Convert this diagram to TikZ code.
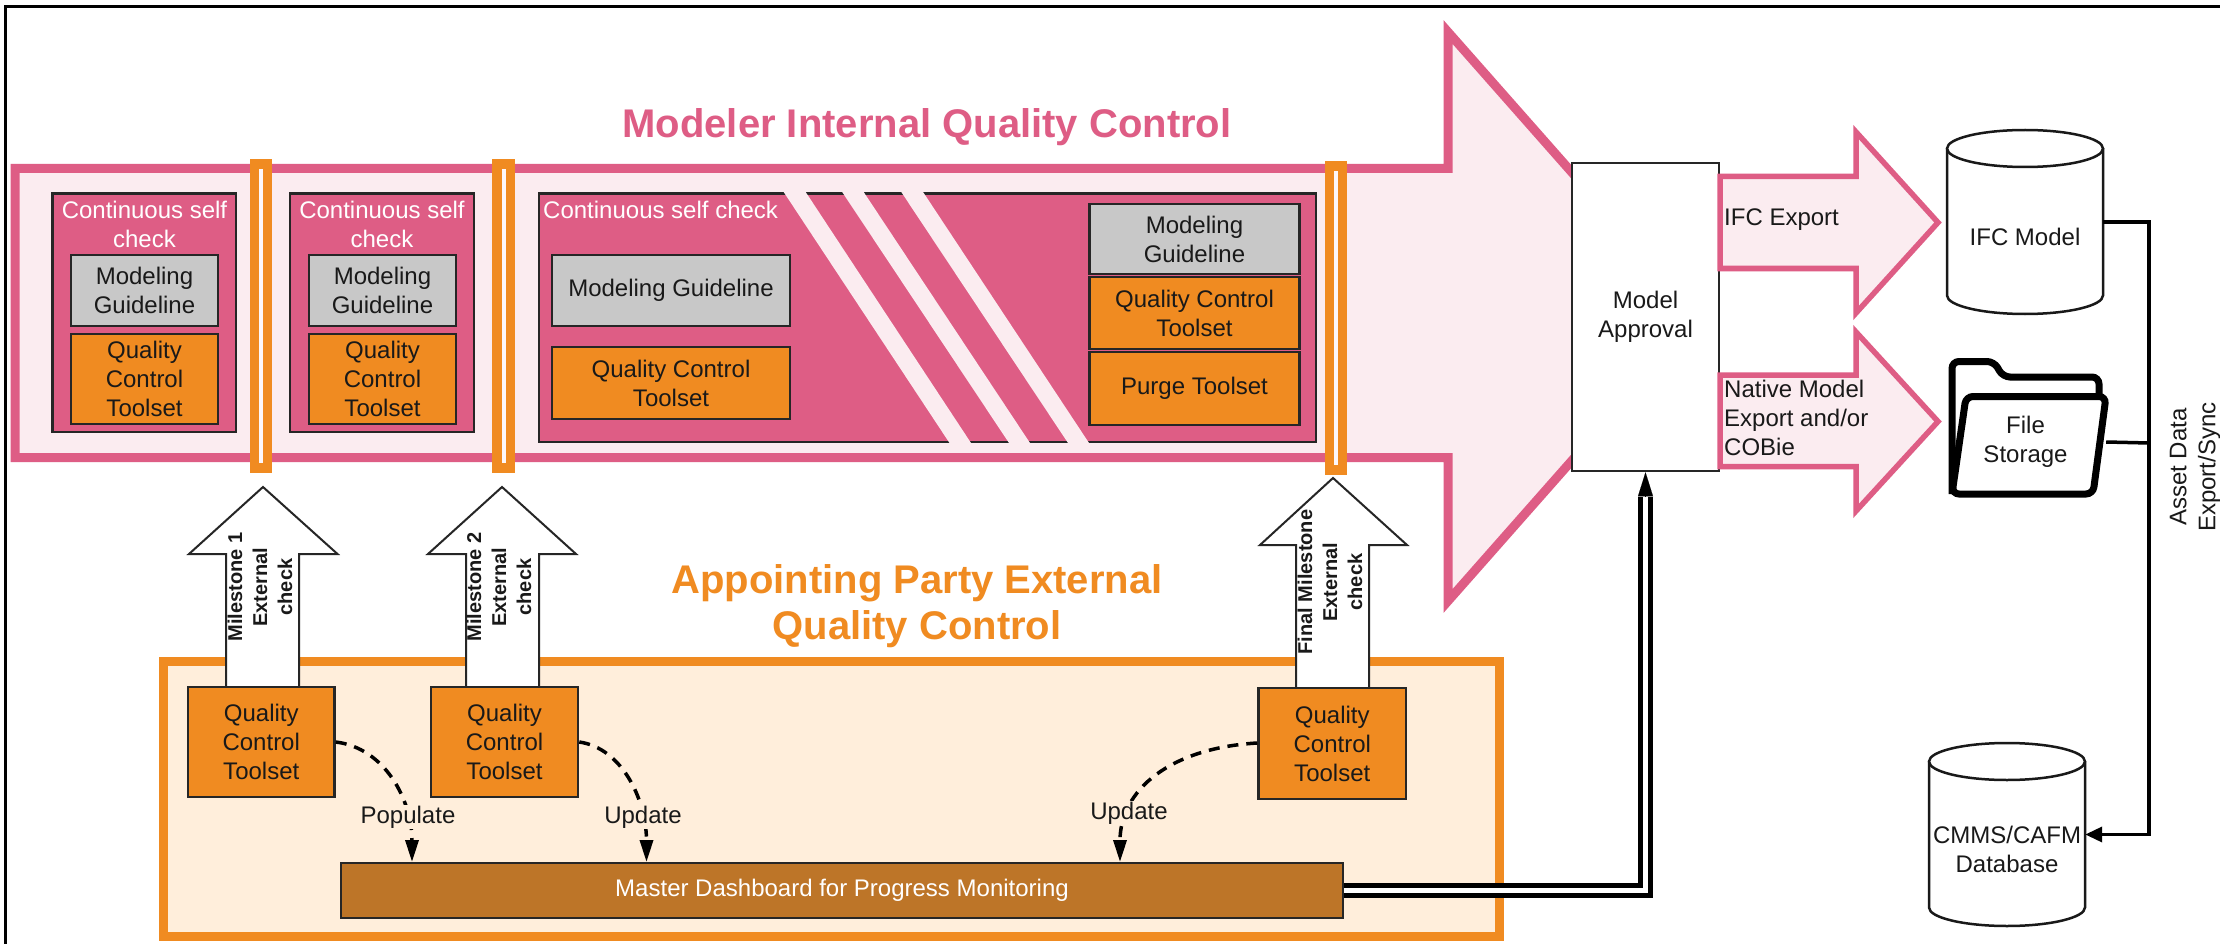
\documentclass[tikz,border=0pt]{standalone}
\usepackage{fontspec}
\setmainfont{Liberation Sans}
\usetikzlibrary{arrows.meta}
\definecolor{pinkc}{HTML}{DE5D85}
\definecolor{pinkl}{HTML}{FBECF0}
\definecolor{orangec}{HTML}{F08B21}
\definecolor{orangel}{HTML}{FFEEDB}
\definecolor{greyc}{HTML}{C8C8C8}
\definecolor{brownc}{HTML}{BD7528}
\newcommand{\tfont}{\fontsize{24}{29}\selectfont}
\newcommand{\ttfont}{\fontsize{40}{46}\selectfont\bfseries}
\newcommand{\mfont}{\fontsize{20}{25}\selectfont\bfseries}
\newcommand{\mybx}[7]{\node[#6,minimum width={(#4-#2)*1pt},minimum height={(#5-#3)*1pt}] (#1) at ({(#2+#4)/2},{(#3+#5)/2}) {#7};}
\tikzset{
  basebox/.style={rectangle,draw=black!85,line width=2.5pt,inner sep=0pt,font=\tfont,align=center,text=black!90},
  pinkbox/.style={basebox,fill=pinkc,text=white},
  greybox/.style={basebox,fill=greyc},
  orbox/.style={basebox,fill=orangec},
  brownbox/.style={basebox,fill=brownc,text=white},
  apprbox/.style={basebox,fill=white},
  ghost/.style={rectangle,inner sep=0pt,font=\tfont,align=center,text=black!90},
  plain/.style={inner sep=0pt,font=\tfont,align=left,text=black!90},
  wtext/.style={inner sep=0pt,font=\tfont,align=center,text=white},
  barout/.style={rectangle,inner sep=0pt,fill=orangec},
  barin/.style={rectangle,inner sep=0pt,fill=pinkl!40!white},
  bigarrow/.style={draw=pinkc,fill=pinkl,line width=9pt,miter limit=10,line join=miter},
  smallarrow/.style={draw=pinkc,fill=pinkl,line width=5.5pt,miter limit=10,line join=miter},
  wharrow/.style={draw=black!85,fill=white,line width=2pt,line join=miter},
  mlabel/.style={inner sep=0pt,font=\mfont,align=center,rotate=90,text=black!90},
  dashconn/.style={line width=3.5pt,black,dash pattern=on 11pt off 8pt,-{Triangle[length=22pt,width=13pt]}},
  solidconn/.style={line width=3.5pt,black},
  cyl/.style={draw=black!90,fill=white,line width=2.5pt},
  folderline/.style={draw=black,fill=white,line width=7pt,rounded corners=7pt},
  stripe/.style={fill=pinkl},
  dlabel/.style={inner sep=1pt,font=\tfont,fill=orangel,text=black!90}
}
\begin{document}
\begin{tikzpicture}[x=1pt,y=-1pt]
\useasboundingbox (0,0) rectangle (2220,944);
\fill[white] (0,0) rectangle (2220,944);
% page frame: top and left only
\draw[line width=3pt,black] (5,944) -- (5,7) -- (2220,7);
% big arrow
\draw[bigarrow] (15,168.5) -- (1448,168.5) -- (1448,32) -- (1699,316.5) -- (1448,601) -- (1448,457.5) -- (15,457.5) -- cycle;
\node[font=\ttfont,text=pinkc,inner sep=0pt] (title1) at (927,127) {Modeler Internal Quality Control};
% inner pink boxes
\mybx{box1}{52.5}{193.5}{236}{432}{pinkbox}{}
\mybx{box2}{290}{193.5}{474}{432}{pinkbox}{}
\mybx{box3}{539}{193.5}{1316}{442}{pinkbox}{}
\node[wtext] (c1) at (144.5,224.5) {Continuous self\\check};
\node[wtext] (c2) at (382,224.5) {Continuous self\\check};
\node[wtext,anchor=west] (c3) at (543,210) {Continuous self check};
\mybx{g1}{71}{255}{218}{326}{greybox}{Modeling\\Guideline}
\mybx{q1}{71}{334}{218}{424}{orbox}{Quality\\Control\\Toolset}
\mybx{g2}{309}{255}{456}{326}{greybox}{Modeling\\Guideline}
\mybx{q2}{309}{334}{456}{424}{orbox}{Quality\\Control\\Toolset}
\mybx{g3}{552}{255}{790}{326}{greybox}{Modeling Guideline}
\mybx{q3}{552}{347}{790}{419}{orbox}{Quality Control\\Toolset}
% stripes
\fill[stripe] (783,191) -- (805,191) -- (972,444.5) -- (950.5,444.5) -- cycle;
\fill[stripe] (841.5,191) -- (863,191) -- (1031,444.5) -- (1010,444.5) -- cycle;
\fill[stripe] (900.6,191) -- (922.4,191) -- (1090,444.5) -- (1069,444.5) -- cycle;
\mybx{g4}{1089.5}{204}{1299.5}{274}{greybox}{Modeling\\Guideline}
\mybx{q4}{1089.5}{277}{1299.5}{349}{orbox}{Quality Control\\Toolset}
\mybx{p4}{1089.5}{352}{1299.5}{425}{orbox}{Purge Toolset}
% milestone bars
\node[barout,minimum width=22pt,minimum height=314pt] (bar1) at (261,316) {};
\node[barin,minimum width=4pt,minimum height=294pt] (slit1) at (261,316) {};
\node[barout,minimum width=23pt,minimum height=314pt] (bar2) at (503.5,316) {};
\node[barin,minimum width=4pt,minimum height=294pt] (slit2) at (503.5,316) {};
\node[barout,minimum width=22pt,minimum height=314pt] (bar3) at (1336,318) {};
\node[barin,minimum width=4pt,minimum height=294pt] (slit3) at (1336,318) {};
% appointing party container
\draw[line width=9pt,draw=orangec,fill=orangel] (163,661.5) rectangle (1499.5,936.5);
\node[font=\ttfont,text=orangec,inner sep=0pt,align=center] (title2) at (917,606) {Appointing Party External\\Quality Control};
% white milestone arrows
\draw[wharrow] (226,687) -- (226,554) -- (189,554) -- (263,487) -- (337.5,554) -- (299,554) -- (299,687);
\draw[wharrow] (466,687) -- (466,554) -- (428,554) -- (502,487) -- (576,554) -- (539,554) -- (539,687);
\draw[wharrow] (1296,688) -- (1296,545) -- (1260,545) -- (1333,478) -- (1407,545) -- (1369,545) -- (1369,688);
\node[mlabel] (m1) at (260,587) {Milestone 1\\External\\check};
\node[mlabel] (m2) at (499,587) {Milestone 2\\External\\check};
\node[mlabel] (m3) at (1330,582) {Final Milestone\\External\\check};
% QC boxes
\mybx{qa}{188}{687}{334.5}{797}{orbox}{Quality\\Control\\Toolset}
\mybx{qb}{431}{687}{578}{797}{orbox}{Quality\\Control\\Toolset}
\mybx{qc}{1258.5}{688}{1406}{799}{orbox}{Quality\\Control\\Toolset}
\mybx{dash}{341}{863}{1343}{918}{brownbox}{Master Dashboard for Progress Monitoring}
% dashed connectors
\coordinate (da) at (412,862);
\coordinate (db) at (646.5,862);
\coordinate (dc) at (1120,862);
\draw[dashconn] (qa.east |- 0,742) .. controls (385,748) and (412,800) .. (da);
\draw[dashconn] (qb.east |- 0,742) .. controls (622,748) and (646.5,800) .. (db);
\draw[dashconn] (qc.west |- 0,743) .. controls (1170,748) and (1120,790) .. (dc);
\node[dlabel] (la) at (408,817) {Populate};
\node[dlabel] (lb) at (643,817) {Update};
\node[dlabel] (lc) at (1129,813) {Update};
% model approval
\mybx{appr}{1572}{163}{1719}{471}{apprbox}{Model\\Approval}
% double connector
\coordinate (dbl) at (1645.5,497);
\draw[line width=4.5pt,double=white,double distance=5.5pt,black] (dash.east) -| (dbl);
\draw[line width=0.1pt,black,-{Triangle[length=24pt,width=15pt]}] (dbl) -- (appr.south);
% export arrows
\draw[smallarrow] (1720,176.5) -- (1856,176.5) -- (1856,132) -- (1938,222.5) -- (1856,313) -- (1856,268.5) -- (1720,268.5) -- cycle;
\draw[smallarrow] (1720,375) -- (1856,375) -- (1856,332) -- (1938,421.5) -- (1856,511) -- (1856,466.5) -- (1720,466.5) -- cycle;
\node[plain,anchor=west] (e1) at (1724,220) {IFC Export};
\node[plain,anchor=west] (e2) at (1724,418) {Native Model\\Export and/or\\COBie};
% IFC cylinder
\draw[cyl] (1947,148.5) -- (1947,295.5) .. controls (1947,305.7) and (1982,314) .. (2025,314) .. controls (2068,314) and (2103,305.7) .. (2103,295.5) -- (2103,148.5);
\draw[cyl] (2025,148.5) ellipse [x radius=78,y radius=18.5];
\node[ghost,minimum width=156pt,minimum height=184pt] (ifc) at (2025,222) {};
\node[ghost] (ifct) at (2025,237) {IFC Model};
% folder
\draw[folderline] (1952,494) -- (1952,361.5) -- (1994,361.5) -- (2003,377) -- (2099,377) -- (2099,400);
\draw[folderline] (1966,396.5) -- (2106,396.5) -- (2093,494) -- (1952,494) -- cycle;
\node[ghost,minimum width=161pt] (folder) at (2025.5,442) {File\\Storage};
% CMMS
\draw[cyl] (1929,761.5) -- (1929,907.5) .. controls (1929,917.7) and (1964,926) .. (2007,926) .. controls (2050,926) and (2085,917.7) .. (2085,907.5) -- (2085,761.5);
\draw[cyl] (2007,761.5) ellipse [x radius=78,y radius=18.5];
\node[ghost,minimum width=156pt,minimum height=183pt] (cmms) at (2007,834.5) {};
\node[ghost] (cmmst) at (2007,849) {CMMS/CAFM\\Database};
% asset connectors
\coordinate (tr) at (2149,443);
\draw[solidconn,line join=miter,-{Triangle[length=17pt,width=15pt]}] (ifc.east) -| (2149,834.5) -- (cmms.east);
\draw[solidconn] (folder.east) -- (tr);
\node[ghost,rotate=90] (asset) at (2195,467) {Asset Data\\Export/Sync};
\end{tikzpicture}
\end{document}
